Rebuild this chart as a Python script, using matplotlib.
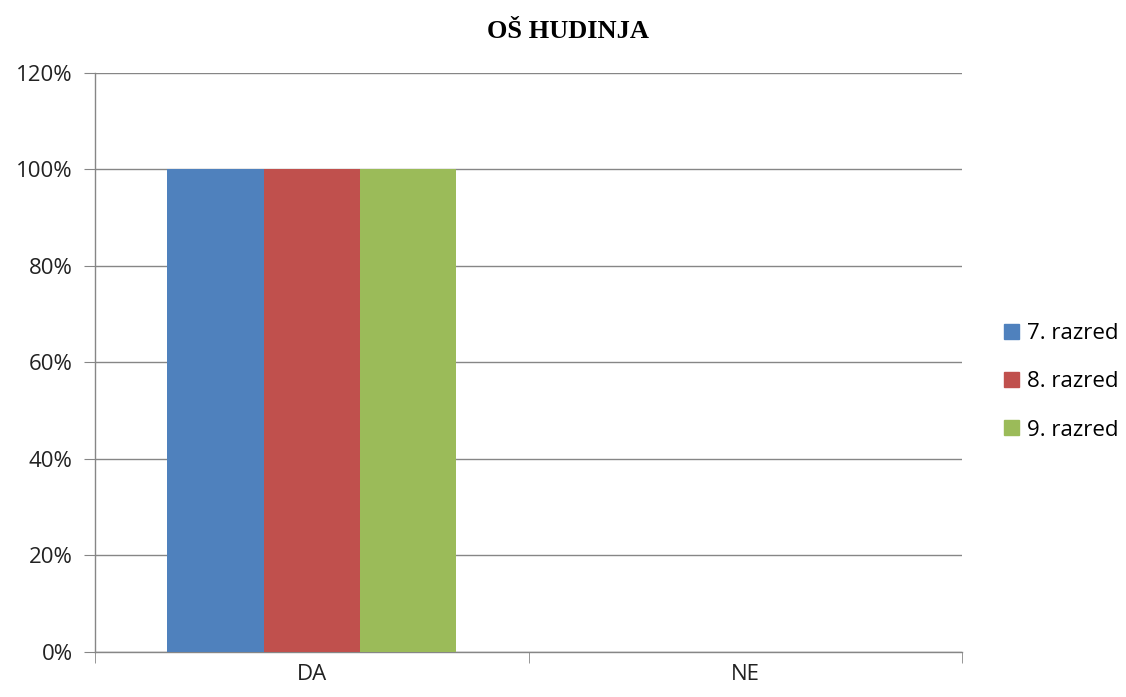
import matplotlib
matplotlib.use("Agg")
from matplotlib import pyplot as plt
from matplotlib.patches import Patch
from matplotlib.ticker import FixedLocator, FuncFormatter
import numpy as np

categories = ["DA", "NE"]
series_names = ["7. razred", "8. razred", "9. razred"]
values = [
    [1.0, 0.0],
    [1.0, 0.0],
    [1.0, 0.0],
]
colors = ["#4F81BD", "#C0504D", "#9BBB59"]
title = "OŠ HUDINJA"

plt.rcParams['font.family'] = ['Open Sans', 'DejaVu Sans']
grey = "#868686"

fig = plt.figure(figsize=(11.26, 6.97), dpi=100)
ax = fig.add_axes([0.0844, 0.0646, 0.770, 0.8307])

x = np.arange(len(categories))
w = 1 / (len(series_names) + 1.5)
for i, (name, vals) in enumerate(zip(series_names, values)):
    ax.bar(x + (i - 1) * w, vals, width=w, color=colors[i], label=name, zorder=3)

ax.set_xlim(-0.5, len(categories) - 0.5)
ax.set_ylim(0, 1.2)
ax.set_yticks(np.arange(0, 1.21, 0.2))
ax.yaxis.set_major_formatter(FuncFormatter(lambda v, p: f"{v*100:.0f}%"))
ax.yaxis.grid(True, color=grey, linewidth=1, zorder=0)

ax.set_xticks(x)
ax.set_xticklabels(categories)
ax.xaxis.set_minor_locator(FixedLocator(np.arange(-0.5, len(categories), 1)))
ax.tick_params(axis='x', which='major', length=0, pad=9, labelsize=16, colors='#222222')
ax.tick_params(axis='x', which='minor', length=8, color=grey, direction='out')
ax.tick_params(axis='y', length=8, color=grey, pad=8, labelsize=16, labelcolor='#222222')

for s in ['top', 'right']:
    ax.spines[s].set_visible(False)
for s in ['left', 'bottom']:
    ax.spines[s].set_color(grey)
    ax.spines[s].set_linewidth(1)

fig.text(0.504, 0.955, title, ha='center', va='center', fontsize=19,
         fontweight='bold', family='Liberation Serif')

handles = [Patch(color=c) for c in colors]
fig.legend(handles, series_names, loc='center left', bbox_to_anchor=(0.874, 0.452),
           frameon=False, fontsize=16, handlelength=0.65, handleheight=0.65,
           handletextpad=0.4, labelspacing=1.22)

fig.savefig("out.png", dpi=100)
